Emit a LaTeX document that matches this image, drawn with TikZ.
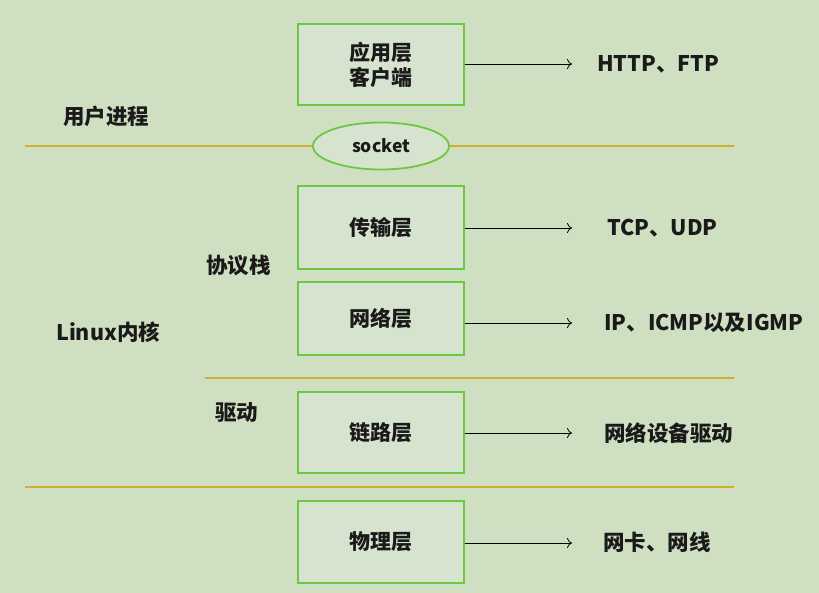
\documentclass[tikz,border=0pt]{standalone}
\usepackage{fontspec}
\setmainfont{Noto Sans CJK SC}
\usetikzlibrary{arrows.meta,shapes.geometric}
\definecolor{bg}{HTML}{CFDFC2}
\definecolor{boxfill}{HTML}{D6E4CF}
\definecolor{boxline}{HTML}{6CC843}
\definecolor{gold}{HTML}{D2AE2C}
\definecolor{ink}{HTML}{1A1A1A}
\tikzset{
  layer/.style={draw=boxline, line width=1.3pt, fill=boxfill, minimum width=166pt, inner sep=0pt, align=center, text=ink, font=\fontsize{21}{25}\selectfont\bfseries},
  lbl/.style={font=\fontsize{21.5}{24}\selectfont\bfseries, text=ink, inner sep=0pt},
  sep/.style={draw=gold, line width=1.6pt},
  conn/.style={draw=black, line width=0.8pt, -{To[length=5pt,width=10pt]}}
}
\begin{document}
\begin{tikzpicture}[x=1pt,y=-1pt]
\fill[bg] (0,0) rectangle (819,593);
\useasboundingbox (0,0) rectangle (819,593);
% boxes
\node[layer, minimum height=81pt] (app) at (381,64.5) {应用层\\客户端};
\node[layer, minimum height=83pt] (trans) at (381,227.5) {传输层};
\node[layer, minimum height=73pt] (net) at (381,318.5) {网络层};
\node[layer, minimum height=81pt] (link) at (381,432.5) {链路层};
\node[layer, minimum height=82pt] (phy) at (381,542) {物理层};
% socket
\node[ellipse, draw=boxline, line width=1.8pt, fill=boxfill, minimum width=136pt, minimum height=47pt, inner sep=0pt, text=ink, font=\fontsize{17.5}{18}\selectfont\bfseries] (sock) at (381,146) {socket};
% separators
\coordinate (s1a) at (25,146);
\coordinate (s1b) at (734,146);
\draw[sep] (s1a) -- (sock.west);
\draw[sep] (sock.east) -- (s1b);
\coordinate (s2a) at (205,378);
\coordinate (s2b) at (734,378);
\draw[sep] (s2a) -- (s2b);
\coordinate (s3a) at (25,487);
\coordinate (s3b) at (734,487);
\draw[sep] (s3a) -- (s3b);
% right labels
\node[lbl, anchor=west] (t1) at (597,64) {HTTP、FTP};
\node[lbl, anchor=west] (t2) at (607,228) {TCP、UDP};
\node[lbl, anchor=west] (t3) at (604,323) {IP、ICMP以及IGMP};
\node[lbl, anchor=west] (t4) at (604,433) {网络设备驱动};
\node[lbl, anchor=west] (t5) at (603,542) {网卡、网线};
% arrows
\coordinate (e1) at (572,64);
\coordinate (e2) at (572,228);
\coordinate (e3) at (572,323);
\coordinate (e4) at (572,433);
\coordinate (e5) at (572,543);
\draw[conn] (app.east |- e1) -- (e1);
\draw[conn] (trans.east |- e2) -- (e2);
\draw[conn] (net.east |- e3) -- (e3);
\draw[conn] (link.east |- e4) -- (e4);
\draw[conn] (phy.east |- e5) -- (e5);
% left labels
\node[lbl, anchor=west] (user) at (63,116) {用户进程};
\node[lbl, anchor=west] (stack) at (206,265) {协议栈};
\node[lbl, anchor=west] (kernel) at (56,332) {Linux内核};
\node[lbl, anchor=west] (drv) at (215,413) {驱动};
\end{tikzpicture}
\end{document}
